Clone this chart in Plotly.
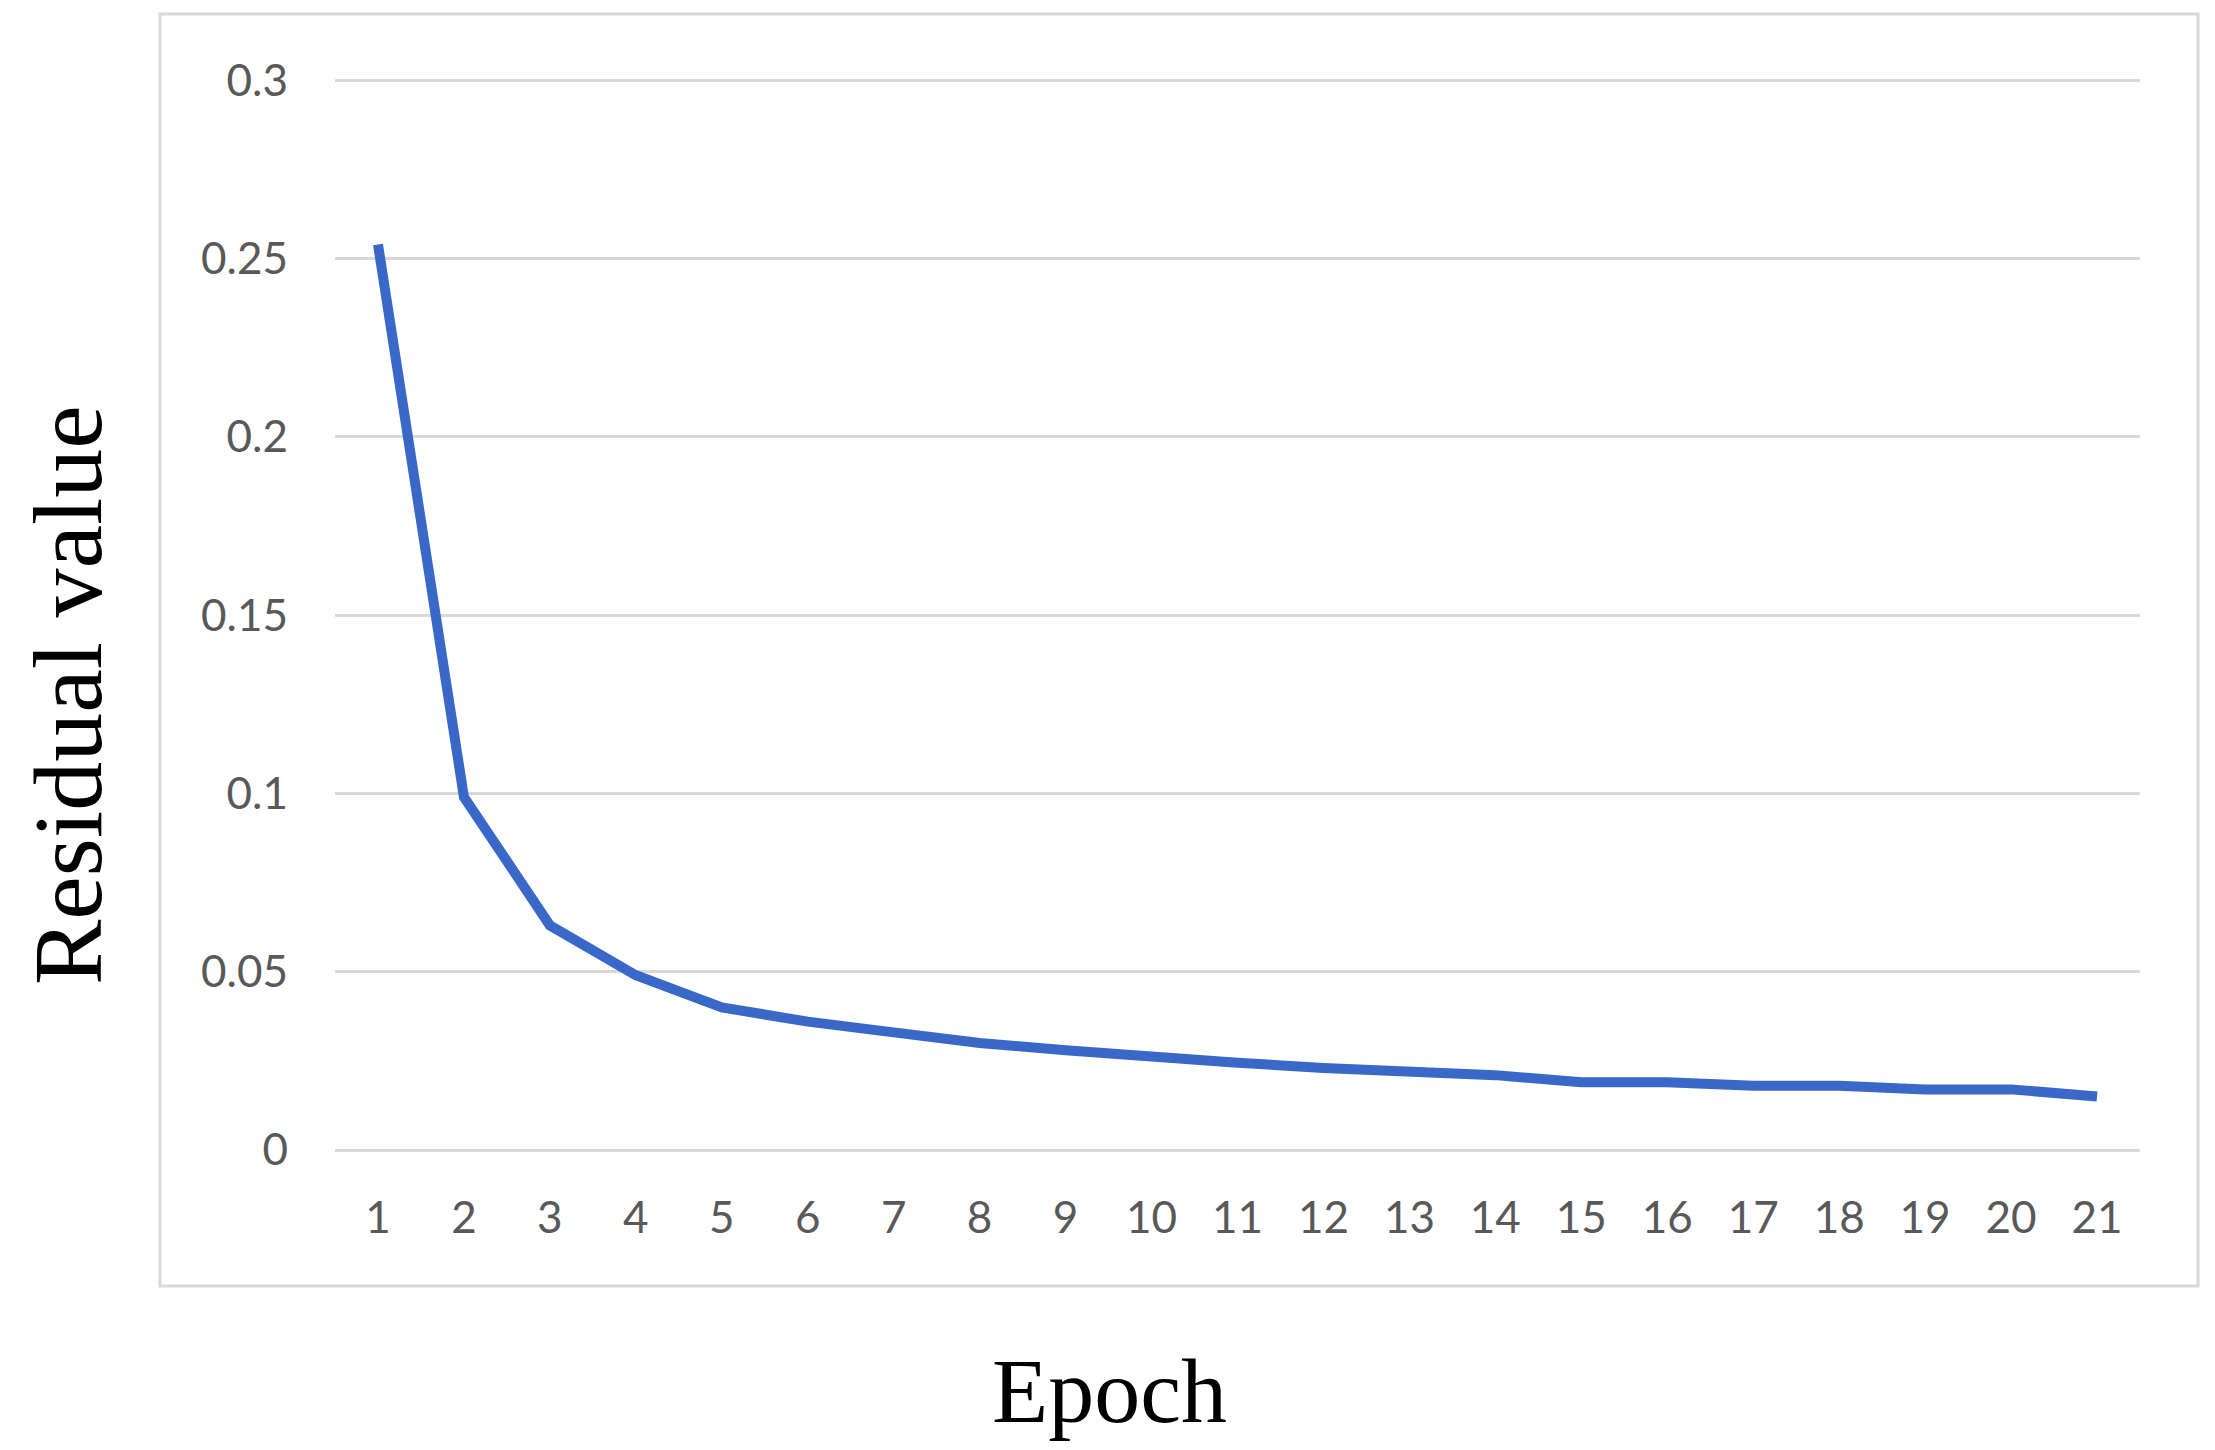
import plotly.graph_objects as go

epochs = [str(i) for i in range(1, 22)]
residual = [0.254, 0.099, 0.063, 0.049, 0.040, 0.036, 0.033, 0.030, 0.028, 0.026,
            0.0245, 0.023, 0.022, 0.021, 0.019, 0.019, 0.018, 0.018, 0.017, 0.017, 0.015]
y_ticks = [0, 0.05, 0.1, 0.15, 0.2, 0.25, 0.3]
y_tick_text = ["0", "0.05", "0.1", "0.15", "0.2", "0.25", "0.3"]

fig = go.Figure()
fig.add_trace(go.Scatter(
    x=epochs, y=residual, mode="lines",
    line=dict(color="#3A68C8", width=10),
    showlegend=False,
))

OFF = 8  # page body margin offset
W, H = 2215, 1450
L, T = 335 - OFF, 79 - OFF
pw, ph = 1805, 1071
R, B = W - L - pw, H - T - ph

def px(x):
    return (x - OFF - L) / pw

def py(y):
    return (T + ph - (y - OFF)) / ph

fig.update_layout(
    width=W, height=H,
    margin=dict(l=L, r=R, t=T, b=B),
    paper_bgcolor="white", plot_bgcolor="white",
    xaxis=dict(
        type="category", range=[-0.5, 20.5],
        showgrid=False, zeroline=False, showline=False,
        ticks="", ticklabelstandoff=38,
        tickfont=dict(family="Lato", size=44, color="#595959"),
    ),
    yaxis=dict(
        range=[0, 0.3004], tickvals=y_ticks, ticktext=y_tick_text,
        showgrid=True, gridcolor="#D9D9D9", gridwidth=3,
        zeroline=True, zerolinecolor="#D9D9D9", zerolinewidth=3,
        showline=False, ticks="", ticklabelstandoff=46,
        tickfont=dict(family="Lato", size=44, color="#595959"),
    ),
    shapes=[dict(
        type="rect", xref="paper", yref="paper",
        x0=px(160), x1=px(2198), y0=py(1286), y1=py(14),
        line=dict(color="#D9D9D9", width=3), fillcolor="rgba(0,0,0,0)",
        layer="below",
    )],
    annotations=[
        dict(text="Epoch", xref="paper", yref="paper",
             x=px(1109), y=py(1391), xanchor="center", yanchor="middle",
             showarrow=False,
             font=dict(family="Liberation Serif", size=92, color="black")),
        dict(text="Residual value", xref="paper", yref="paper",
             x=px(68), y=py(695), xanchor="center", yanchor="middle",
             textangle=-90, showarrow=False,
             font=dict(family="Liberation Serif", size=98, color="black")),
    ],
)

fig.write_html("out.html")
